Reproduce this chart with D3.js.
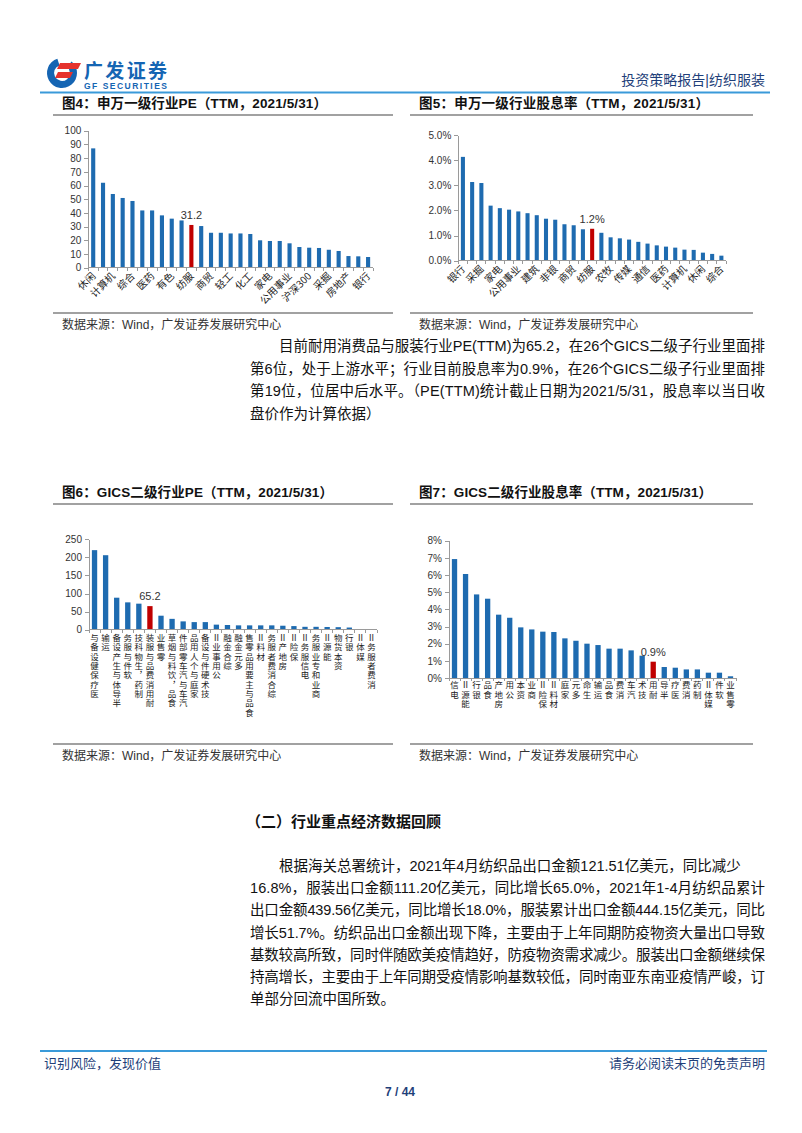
<!DOCTYPE html>
<html>
<head>
<meta charset="utf-8">
<script src="https://cdn.jsdelivr.net/npm/d3@7"></script>
<style>
body { margin: 0; background: #fff; }
text { font-family: "Liberation Sans", Arial, "Noto Sans CJK SC", sans-serif; }
.axis path, .axis line { stroke: #9a9a9a; shape-rendering: crispEdges; }
.axis text { font-size: 10px; fill: #333; font-family: "Liberation Sans", Arial, sans-serif; }
.vlab { writing-mode: vertical-rl; text-orientation: upright; font-family: "Noto Sans CJK SC", sans-serif; }
</style>
</head>
<body>
<svg id="page" width="802" height="1133"></svg>
<script>

// ---- data ----
// 图4 申万一级行业PE
var swPeCats = ["休闲","军工","计算机","电子","综合","食品","医药","电气","有色","通信","纺服","传媒","商贸","汽车","轻工",
                "机械","化工","农牧","家电","建材","公用事业","交运","沪深300","非银","采掘","钢铁","房地产","建筑","银行"];
var swPeVals = [87.1,62,53.8,50.9,48.7,41.8,41.8,38.2,35.8,34.5,31.2,30.4,25.5,25.5,25,
                25,24.6,20,19.5,19.5,17.8,15.1,14.6,14.4,13.1,12.2,8.5,8.3,7.8];
// 图5 申万一级行业股息率
var swDyCats = ["银行","钢铁","采掘","房地产","家电","沪深300","公用事业","交运","建筑","汽车","非银","化工","商贸","建材","纺服",
                "食品","农牧","轻工","传媒","机械","通信","有色","医药","电气","计算机","电子","休闲","军工","综合"];
var swDyVals = [0.0413,0.0313,0.0309,0.0219,0.0209,0.0203,0.0196,0.0189,0.0181,0.0167,0.0163,0.0145,0.0141,0.0125,0.0127,
                0.0111,0.0093,0.0089,0.0084,0.0075,0.0068,0.0061,0.0056,0.0052,0.0044,0.0043,0.0032,0.0027,0.0020];
// 图6 GICS二级行业PE
var gicsPeCats = ["医疗保健设备与","运输","半导体与生产设备","软件与服务","制药，生物科技","耐用消费品与服装","零售业",
                  "食品，饮料与烟草","汽车与汽车零部件","家庭与个人用品","技术硬件与设备","公用事业Ⅱ","综合金融","多元金融",
                  "食品与主要用品零售","材料Ⅱ","综合消费者服务","房地产Ⅱ","保险Ⅱ","电信服务Ⅱ","商业和专业服务","能源Ⅱ",
                  "资本货物","银行","媒体Ⅱ","消费者服务Ⅱ"];
var gicsPeVals = [220,206,88.5,75.6,72,65.2,38.7,30,23,21,21,14,13,12,12,12,12,11,10,8,8,7.5,7,6,0,0];
// 图7 GICS二级行业股息率
var gicsDyCats = ["电信","能源Ⅱ","银行","食品","房地产","公用","资本","商业","保险Ⅱ","材料Ⅱ","家庭","多元","生命",
                  "运输","食品","消费","汽车","技术","耐用","半导","医疗","消费","制药","媒体Ⅱ","软件","零售业"];
var gicsDyVals = [0.0693,0.0606,0.0487,0.0462,0.0369,0.0351,0.0295,0.0283,0.0270,0.0268,0.0231,0.0217,0.0200,
                  0.0192,0.0171,0.0171,0.0161,0.0130,0.0095,0.0064,0.0060,0.0050,0.0050,0.0031,0.0031,0.0010];

var para1 = ["目前耐用消费品与服装行业PE(TTM)为65.2，在26个GICS二级子行业里面排",
             "第6位，处于上游水平；行业目前股息率为0.9%，在26个GICS二级子行业里面排",
             "第19位，位居中后水平。（PE(TTM)统计截止日期为2021/5/31，股息率以当日收",
             "盘价作为计算依据）"];
var para2 = ["根据海关总署统计，2021年4月纺织品出口金额121.51亿美元，同比减少",
             "16.8%，服装出口金额111.20亿美元，同比增长65.0%，2021年1-4月纺织品累计",
             "出口金额439.56亿美元，同比增长18.0%，服装累计出口金额444.15亿美元，同比",
             "增长51.7%。纺织品出口金额出现下降，主要由于上年同期防疫物资大量出口导致",
             "基数较高所致，同时伴随欧美疫情趋好，防疫物资需求减少。服装出口金额继续保",
             "持高增长，主要由于上年同期受疫情影响基数较低，同时南亚东南亚疫情严峻，订",
             "单部分回流中国所致。"];

var blue = "#1e6bb0", red = "#c00000", navy = "#1f3f7a";
var svg = d3.select("#page");

// ---- header ----
var logo = svg.append("g");
logo.append("path")
    .attr("d", d3.arc()({innerRadius: 8, outerRadius: 15, startAngle: Math.PI * 0.22, endAngle: Math.PI * 1.9}))
    .attr("transform", "translate(62,73)")
    .attr("fill", "#1565b3");
logo.append("path").attr("d", "M60,63 L81,63 L78,69 L57,69 Z").attr("fill", "#e5322d");
logo.append("path").attr("d", "M58,72 L73,72 L70,78 L55,78 Z").attr("fill", "#e5322d");
logo.append("text").attr("x", 84).attr("y", 78).attr("textLength", 83)
    .style("font-family", "Noto Sans CJK SC").style("font-weight", "bold")
    .attr("font-size", 19).attr("fill", "#1565b3").text("广发证券");
logo.append("text").attr("x", 84).attr("y", 89).attr("textLength", 83)
    .style("font-weight", "bold").attr("font-size", 8.5).attr("fill", "#1565b3").text("GF SECURITIES");

svg.append("text").attr("x", 765).attr("y", 85).attr("text-anchor", "end")
    .attr("font-size", 14).attr("fill", navy).text("投资策略报告|纺织服装");
svg.append("line").attr("x1", 40).attr("x2", 770).attr("y1", 92.5).attr("y2", 92.5)
    .attr("stroke", "#3a9ad9").attr("stroke-width", 2);

// ---- chart frame: title, rules, source ----
function frame(x, x2, titleY, srcY, title, titleW) {
    svg.append("text").attr("x", x + 9).attr("y", titleY + 5)
        .attr("font-size", 13.5).style("font-weight", "bold").attr("fill", "#111")
        .attr("textLength", titleW).attr("lengthAdjust", "spacing").text(title);
    svg.append("line").attr("x1", x).attr("x2", x2).attr("y1", titleY + 12).attr("y2", titleY + 12)
        .attr("stroke", "#444").attr("stroke-width", 1.2);
    svg.append("line").attr("x1", x).attr("x2", x2).attr("y1", srcY - 12).attr("y2", srcY - 12)
        .attr("stroke", "#444").attr("stroke-width", 1.2);
    svg.append("text").attr("x", x + 9).attr("y", srcY + 4)
        .attr("font-size", 12).attr("fill", "#333").text("数据来源：Wind，广发证券发展研究中心");
}
frame(53, 393, 103, 325, "图4：申万一级行业PE（TTM，2021/5/31）", 265);
frame(410, 753, 103, 325, "图5：申万一级行业股息率（TTM，2021/5/31）", 290);
frame(53, 393, 492, 756, "图6：GICS二级行业PE（TTM，2021/5/31）", 271);
frame(410, 753, 492, 756, "图7：GICS二级行业股息率（TTM，2021/5/31）", 293);

// ---- bar chart ----
function barChart(o) {
    var idx = d3.range(o.cats.length);
    var x = d3.scaleBand().domain(idx).range([o.x0, o.x1]).paddingInner(o.pad).paddingOuter(o.pad / 2);
    var y = d3.scaleLinear().domain(o.domain).range([o.yb, o.yt]);
    var g = svg.append("g");

    g.selectAll("rect.bar").data(idx).join("rect")
        .attr("class", "bar")
        .attr("x", function(i) { return x(i); })
        .attr("width", x.bandwidth())
        .attr("y", function(i) { return y(o.vals[i]); })
        .attr("height", function(i) { return y(0) - y(o.vals[i]); })
        .attr("fill", function(i) { return i === o.hi ? red : blue; });

    // y axis
    g.append("g").attr("class", "axis").attr("transform", "translate(" + o.x0 + ",0)")
        .call(d3.axisLeft(y).tickValues(o.ticks).tickFormat(o.fmt).tickSize(4).tickSizeOuter(0).tickPadding(3));

    // x axis: baseline plus ticks between categories
    var xa = g.append("g").attr("class", "axis");
    xa.append("line").attr("x1", o.x0).attr("x2", o.x1).attr("y1", y(0)).attr("y2", y(0));
    xa.selectAll("line.tk").data(d3.range(o.cats.length + 1)).join("line")
        .attr("class", "tk")
        .attr("x1", function(k) { return o.x0 + k * x.step(); })
        .attr("x2", function(k) { return o.x0 + k * x.step(); })
        .attr("y1", y(0)).attr("y2", y(0) + 3);

    // value label on highlighted bar
    g.append("text")
        .attr("x", x(o.hi) + x.bandwidth() / 2)
        .attr("y", y(o.vals[o.hi]) - 6)
        .attr("text-anchor", "middle").attr("font-size", 11).attr("fill", "#333")
        .text(o.hiLabel);

    var cx = function(i) { return x(i) + x.bandwidth() / 2; };
    if (o.labels === "diag") {
        g.selectAll("text.cat").data(idx.filter(function(i) { return i % 2 === 0; })).join("text")
            .attr("class", "cat")
            .attr("text-anchor", "end")
            .attr("font-size", 10).attr("fill", "#222")
            .style("font-family", "Noto Sans CJK SC, sans-serif")
            .attr("transform", function(i) { return "translate(" + (cx(i) + 3) + "," + (y(0) + 9) + ") rotate(-45)"; })
            .text(function(i) { return o.cats[i]; });
    } else {
        // upright characters reading upwards, last character next to the axis
        g.selectAll("text.cat").data(idx).join("text")
            .attr("class", "cat vlab")
            .attr("x", cx)
            .attr("y", y(0) + o.lab0)
            .attr("font-size", 8.5).attr("fill", "#222")
            .style("letter-spacing", "0.8px")
            .text(function(i) { return Array.from(o.cats[i]).reverse().join(""); });
    }
}

barChart({cats: swPeCats, vals: swPeVals, x0: 88.3, x1: 373, yb: 267.7, yt: 130.7,
          domain: [0, 100], ticks: d3.range(0, 101, 10), fmt: d3.format("d"),
          pad: 0.58, hi: 10, hiLabel: "31.2", labels: "diag"});
barChart({cats: swDyCats, vals: swDyVals, x0: 458.3, x1: 726, yb: 260.7, yt: 135,
          domain: [0, 0.05], ticks: d3.range(0, 0.0501, 0.01), fmt: d3.format(".1%"),
          pad: 0.56, hi: 14, hiLabel: "1.2%", labels: "diag"});
barChart({cats: gicsPeCats, vals: gicsPeVals, x0: 89, x1: 377, yb: 629.7, yt: 539.3,
          domain: [0, 250], ticks: d3.range(0, 251, 50), fmt: d3.format("d"),
          pad: 0.52, hi: 5, hiLabel: "65.2", labels: "vert", lab0: 4});
barChart({cats: gicsDyCats, vals: gicsDyVals, x0: 449, x1: 736, yb: 678, yt: 540.7,
          domain: [0, 0.08], ticks: d3.range(0, 0.0801, 0.01), fmt: d3.format(".0%"),
          pad: 0.52, hi: 18, hiLabel: "0.9%", labels: "vert", lab0: 3});

// ---- body text ----
function paragraph(lines, y0, step, lastFull) {
    lines.forEach(function(s, i) {
        var x = i === 0 ? 279 : 250;
        var t = svg.append("text").attr("x", x).attr("y", y0 + i * step)
            .attr("font-size", 14.5).attr("fill", "#111").text(s);
        var full = i < lines.length - 1 && (i > 0 || lastFull);
        if (full) t.attr("textLength", 765 - x).attr("lengthAdjust", "spacing");
    });
}
paragraph(para1, 351, 22.7, true);

svg.append("text").attr("x", 246).attr("y", 827).attr("font-size", 15)
    .style("font-weight", "bold").attr("fill", "#111").text("（二）行业重点经济数据回顾");
paragraph(para2, 871, 22.2, false);

// ---- footer ----
svg.append("line").attr("x1", 40).attr("x2", 767).attr("y1", 1051).attr("y2", 1051)
    .attr("stroke", "#3a9ad9").attr("stroke-width", 2);
svg.append("text").attr("x", 44).attr("y", 1068).attr("font-size", 13).attr("fill", navy).text("识别风险，发现价值");
svg.append("text").attr("x", 765).attr("y", 1068).attr("text-anchor", "end").attr("font-size", 13).attr("fill", navy)
    .text("请务必阅读末页的免责声明");
svg.append("text").attr("x", 400).attr("y", 1096).attr("text-anchor", "middle").attr("font-size", 12)
    .style("font-weight", "bold").attr("fill", navy).text("7 / 44");

</script>
</body>
</html>
